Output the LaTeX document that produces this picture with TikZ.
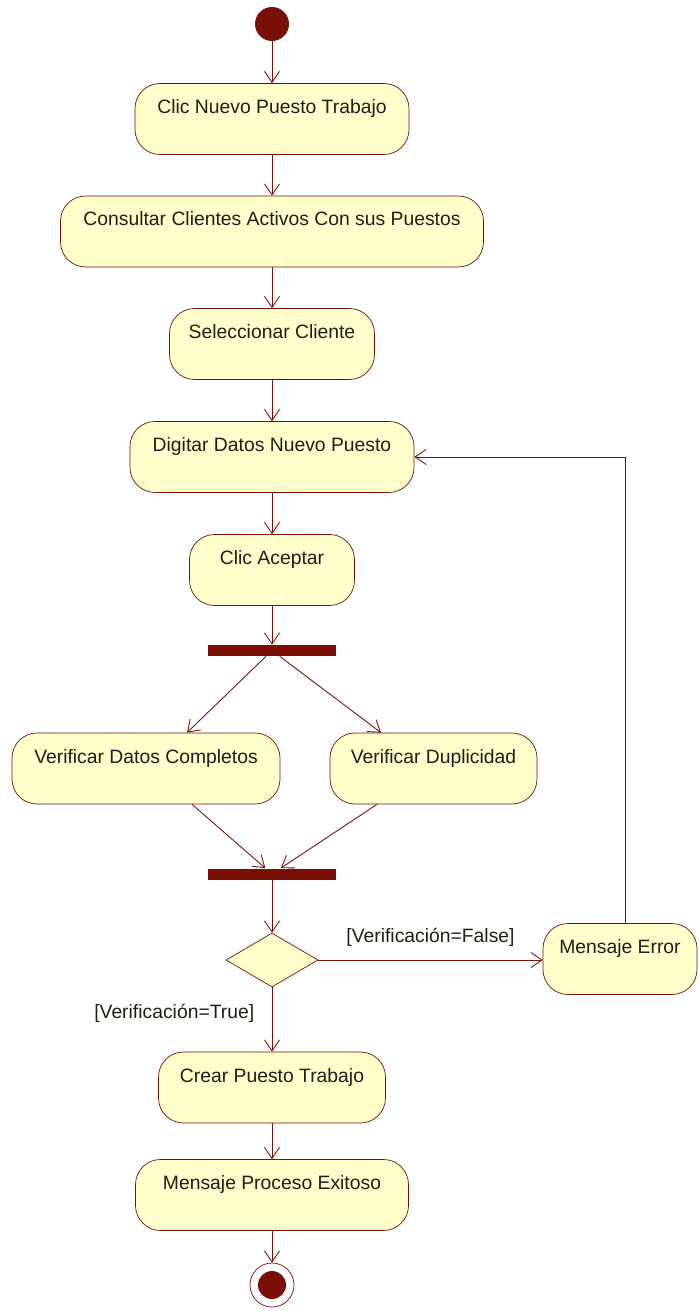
\documentclass[tikz,border=0pt]{standalone}
\usepackage{fontspec}
\setmainfont{Liberation Sans}
\usepackage{tikz}
\usetikzlibrary{arrows.meta, shapes.geometric}
\definecolor{actfill}{RGB}{255,255,204}
\definecolor{actline}{RGB}{120,16,8}
\definecolor{acttext}{RGB}{30,30,20}
\tikzset{
  act/.style={draw=actline, fill=actfill, rounded corners=0.5cm, inner sep=0.12cm,
    text height=0.48cm, text depth=0.7cm, text=acttext, font=\fontsize{11}{13}\selectfont},
  bar/.style={fill=actline, inner sep=0, minimum width=2.56cm, minimum height=0.22cm},
  flow/.style={draw=actline, line width=0.5pt, -{Straight Barb[length=0.22cm, width=0.3cm]}},
  guard/.style={text=acttext, font=\fontsize{11}{13}\selectfont},
}

\begin{document}
\begin{tikzpicture}
\useasboundingbox (0,0) rectangle (13.98,-26.22);
\node[circle, fill=actline, minimum size=0.68cm, inner sep=0] (inicio) at (5.44,-0.48) {};
\node[act, minimum width=5.48cm] (clic) at (5.44,-2.38) {Clic Nuevo Puesto Trabajo};
\node[act, minimum width=8.46cm] (consultar) at (5.44,-4.63) {Consultar Clientes Activos Con sus Puestos};
\node[act, minimum width=4.1cm] (seleccionar) at (5.44,-6.88) {Seleccionar Cliente};
\node[act, minimum width=5.68cm] (digitar) at (5.44,-9.14) {Digitar Datos Nuevo Puesto};
\node[act, minimum width=3.3cm] (aceptar) at (5.44,-11.4) {Clic Aceptar};
\node[bar] (fork) at (5.44,-13.01) {};
\node[act, minimum width=5.36cm] (ver1) at (2.92,-15.37) {Verificar Datos Completos};
\node[act, minimum width=4.14cm] (ver2) at (8.67,-15.37) {Verificar Duplicidad};
\node[bar] (join) at (5.44,-17.48) {};
\node[diamond, draw=actline, fill=actfill, minimum width=1.84cm, minimum height=1.08cm, inner sep=0] (decision) at (5.44,-19.2) {};
\node[act, minimum width=3.08cm] (error) at (12.4,-19.18) {Mensaje Error};
\node[act, minimum width=4.54cm] (crear) at (5.44,-21.75) {Crear Puesto Trabajo};
\node[act, minimum width=5.46cm] (exito) at (5.44,-23.9) {Mensaje Proceso Exitoso};
\node[circle, draw=actline, fill=white, minimum size=0.88cm, inner sep=0,
  path picture={\fill[actline] (path picture bounding box.center) circle (0.28cm);}] (fin) at (5.44,-25.7) {};

\draw[flow] (inicio) -- (clic);
\draw[flow] (clic) -- (consultar);
\draw[flow] (consultar) -- (seleccionar);
\draw[flow] (seleccionar) -- (digitar);
\draw[flow] (digitar) -- (aceptar);
\draw[flow] (aceptar) -- (fork);
\draw[flow] (fork) -- ([xshift=0.82cm]ver1.north);
\draw[flow] (fork) -- ([xshift=-1.05cm]ver2.north);
\draw[flow] ([xshift=0.92cm]ver1.south) -- (join);
\draw[flow] ([xshift=-1.13cm]ver2.south) -- (join);
\draw[flow] (join) -- (decision);
\draw[flow] (decision.east) -- (decision.east -| error.west)
  node[guard, midway, above=0.15cm] (falso) {[Verificación=False]};
\draw[flow] ([xshift=0.1cm]error.north) |- (digitar.east);
\draw[flow] (decision) -- (crear)
  node[guard, pos=0.4, left=0.23cm] (verdad) {[Verificación=True]};
\draw[flow] (crear) -- (exito);
\draw[flow] (exito) -- (fin);
\end{tikzpicture}
\end{document}
